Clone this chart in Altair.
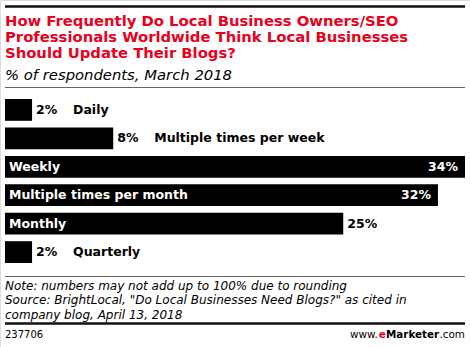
import altair as alt
import pandas as pd

categories = ["Daily", "Multiple times per week", "Weekly",
              "Multiple times per month", "Monthly", "Quarterly"]
values = [2, 8, 34, 32, 25, 2]

title_lines = ["How Frequently Do Local Business Owners/SEO",
               "Professionals Worldwide Think Local Businesses",
               "Should Update Their Blogs?"]
subtitle = "% of respondents, March 2018"
note_lines = ["Note: numbers may not add up to 100% due to rounding",
              'Source: BrightLocal, "Do Local Businesses Need Blogs?" as cited in',
              "company blog, April 13, 2018"]
chart_id = "237706"
brand_parts = ["www.", "e", "Marketer", ".com"]

df = pd.DataFrame({"category": categories, "value": values})
df["label"] = df["value"].astype(str) + "%"

FONT = "DejaVu Sans"
RED = "#e8001c"

x_scale = alt.Scale(domain=[0, 34], range=[5, 465])
y_scale = alt.Scale(domain=categories, range=[99, 263], paddingInner=0.233, paddingOuter=0)
X = alt.X("value:Q", scale=x_scale, axis=None)
Yb = alt.Y("category:N", scale=y_scale, axis=None, sort=categories)
Yt = alt.Y("category:N", scale=y_scale, axis=None, sort=categories, bandPosition=0.5)

base = alt.Chart(df)
bars = base.mark_bar(color="black").encode(x=X, y=Yb)

txt = dict(font=FONT, fontSize=12.5, fontWeight="bold", baseline="middle")
value_in = base.transform_filter("datum.value >= 30").mark_text(
    align="right", dx=-7, color="white", **txt).encode(x=X, y=Yt, text="label:N")
value_out = base.transform_filter("datum.value < 30").mark_text(
    align="left", dx=4, color="black", **txt).encode(x=X, y=Yt, text="label:N")
cat_in = base.transform_filter("datum.value >= 20").mark_text(
    align="left", color="white", **txt).encode(x=alt.value(9), y=Yt, text="category:N")
cat_out = base.transform_filter("datum.value < 20").mark_text(
    align="left", dx=41, color="black", **txt).encode(x=X, y=Yt, text="category:N")


def static_text(t, x, y, size, weight="normal", style="normal", color="black", align="left"):
    return alt.Chart(pd.DataFrame({"t": [t]})).mark_text(
        font=FONT, fontSize=size, fontWeight=weight, fontStyle=style, color=color,
        align=align, baseline="alphabetic").encode(
        x=alt.value(x), y=alt.value(y), text="t:N")


def rule(y, width, color):
    return alt.Chart(pd.DataFrame({"a": [0]})).mark_rule(
        color=color, strokeWidth=width).encode(
        x=alt.value(5), x2=alt.value(465), y=alt.value(y))


layers = [rule(6.5, 2.5, "#111"), rule(87.5, 1, "#666"), rule(276.5, 1, "#666"), rule(323.5, 2.5, "#111")]
for i, line in enumerate(title_lines):
    layers.append(static_text(line, 5, 26.3 + i * 15.8, 14.8, weight="bold", color=RED))
layers.append(static_text(subtitle, 5, 80, 14.8, style="italic"))
for i, line in enumerate(note_lines):
    layers.append(static_text(line, 5, 289.5 + i * 14.5, 12, style="italic"))
layers.append(static_text(chart_id, 5, 338, 10))
brand_x = [350, 378.8, 385.9, 439.4]
brand_w = ["normal", "bold", "bold", "normal"]
brand_c = ["black", RED, "black", "black"]
for p, bx, w, c in zip(brand_parts, brand_x, brand_w, brand_c):
    layers.append(static_text(p, bx, 338, 10.4, weight=w, color=c))

chart = alt.layer(bars, value_in, value_out, cat_in, cat_out, *layers).properties(
    width=470, height=347, autosize=alt.AutoSizeParams(type="none"), padding=0
).configure_view(strokeWidth=0).configure(background="white")

chart.save("out.html", embed_options={"renderer": "svg", "actions": False})
